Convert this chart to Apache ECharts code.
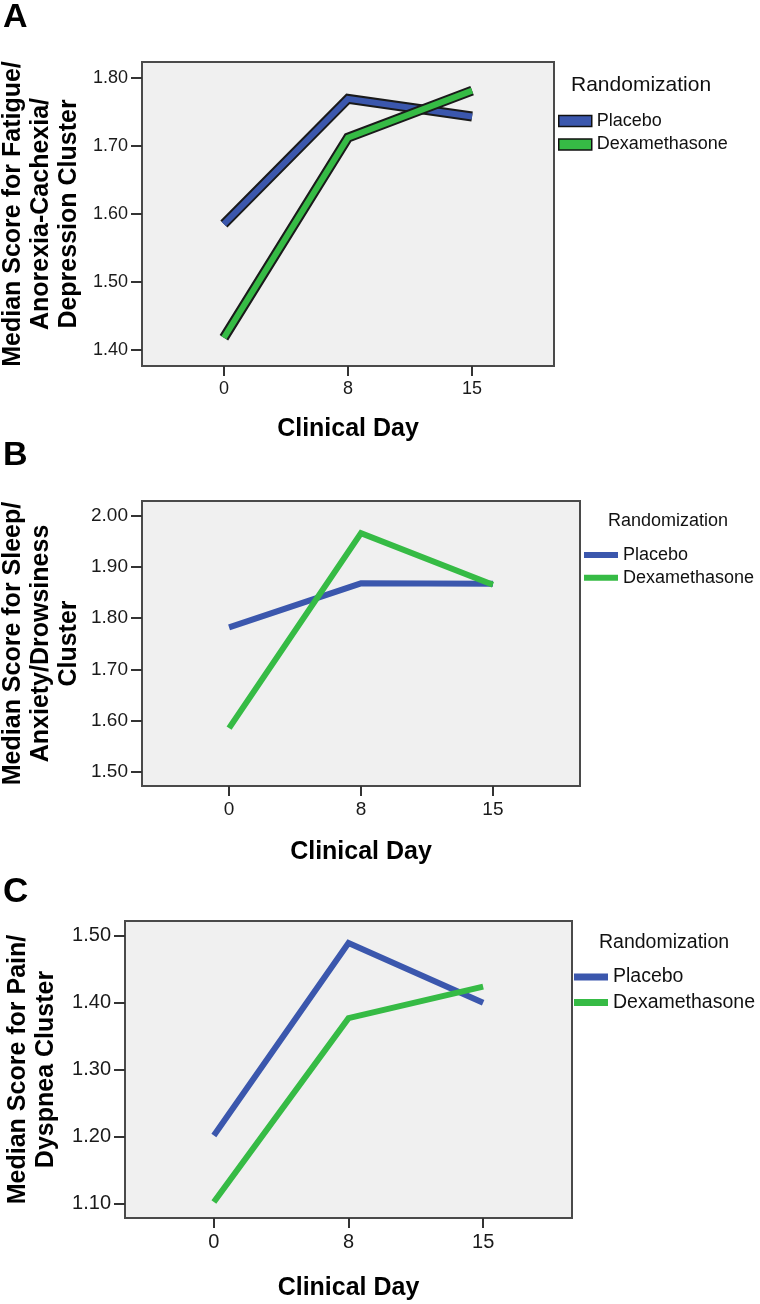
<!DOCTYPE html>
<html>
<head>
<meta charset="utf-8">
<script src="https://cdn.jsdelivr.net/npm/echarts@6/dist/echarts.min.js"></script>
<style>
  html, body { margin: 0; padding: 0; background: #fff; }
  #chart { width: 760px; height: 1304px; }
</style>
</head>
<body>
<div id="chart"></div>
<script>
// clinical days (categories) and the median cluster scores
const days = ['0', '8', '15']

const placeboA = [1.585, 1.769, 1.743]
const dexaA = [1.418, 1.712, 1.781]

const placeboB = [1.782, 1.868, 1.867]
const dexaB = [1.585, 1.966, 1.865]

const placeboC = [1.202, 1.489, 1.400]
const dexaC = [1.103, 1.377, 1.424]

// y tick labels
const ticksA = [1.4, 1.5, 1.6, 1.7, 1.8]
const ticksB = [1.5, 1.6, 1.7, 1.8, 1.9, 2.0]
const ticksC = [1.1, 1.2, 1.3, 1.4, 1.5]

const blue = '#3b57ad'
const green = '#36bb45'
const font = 'Liberation Sans, Arial, sans-serif'

const dayIdx = days.map((d, i) => i)
const toPoints = arr => arr.map((v, i) => [i, v])

function xAxis(gridIndex, fontSize, nameGap) {
  return {
    type: 'value',
    gridIndex: gridIndex,
    min: -0.66,
    max: 2.66,
    name: 'Clinical Day',
    nameLocation: 'middle',
    nameGap: nameGap,
    nameMoveOverlap: false,
    nameTextStyle: { fontSize: 25, fontWeight: 'bold', color: '#000', fontFamily: font },
    axisLine: { show: false, onZero: false },
    splitLine: { show: false },
    axisTick: { customValues: dayIdx, length: 10, lineStyle: { color: '#333', width: 2 } },
    axisLabel: {
      customValues: dayIdx,
      margin: 14,
      fontSize: fontSize,
      color: '#1a1a1a',
      formatter: v => days[Math.round(v)]
    }
  }
}

function yAxis(gridIndex, min, max, ticks, title, fontSize, nameGap) {
  return {
    type: 'value',
    gridIndex: gridIndex,
    min: min,
    max: max,
    name: title,
    nameLocation: 'middle',
    nameRotate: 90,
    nameGap: nameGap,
    nameMoveOverlap: false,
    nameTextStyle: { fontSize: 25, fontWeight: 'bold', color: '#000', lineHeight: 28, fontFamily: font },
    axisLine: { show: false, onZero: false },
    splitLine: { show: false },
    axisTick: { customValues: ticks, length: 11, lineStyle: { color: '#333', width: 2 } },
    axisLabel: {
      customValues: ticks,
      margin: 14,
      fontSize: fontSize,
      color: '#1a1a1a',
      formatter: v => v.toFixed(2)
    }
  }
}

function line(name, idx, data, color, width, z) {
  return {
    name: name,
    type: 'line',
    xAxisIndex: idx,
    yAxisIndex: idx,
    data: toPoints(data),
    showSymbol: false,
    z: z,
    lineStyle: { color: color, width: width, join: 'miter', cap: 'butt' },
    itemStyle: { color: color }
  }
}

function legend(idx, left, top, size, itemH, gap, bordered) {
  const border = bordered ? { borderColor: '#111', borderWidth: 1.5 } : { borderWidth: 0 }
  return {
    left: left,
    top: top,
    orient: 'vertical',
    padding: 0,
    itemGap: gap,
    itemWidth: bordered ? 33 : 34,
    itemHeight: itemH,
    icon: 'rect',
    selectedMode: false,
    textStyle: { fontSize: size, lineHeight: size, color: '#111', fontFamily: font },
    data: [
      { name: 'Placebo', itemStyle: Object.assign({ color: blue }, border) },
      { name: 'Dexamethasone', itemStyle: Object.assign({ color: green }, border) }
    ]
  }
}

function label(text, left, top, size, bold) {
  return {
    text: text,
    left: left,
    top: top,
    padding: 0,
    textStyle: {
      fontSize: size,
      lineHeight: size + 1,
      fontWeight: bold ? 'bold' : 'normal',
      color: bold ? '#000' : '#111',
      fontFamily: font
    }
  }
}

const gridStyle = {
  show: true,
  outerBoundsMode: 'none',
  containLabel: false,
  backgroundColor: '#f0f0f0',
  borderColor: '#4a4a4a',
  borderWidth: 2
}

const chart = echarts.init(document.getElementById('chart'))

chart.setOption({
  animation: false,
  textStyle: { fontFamily: font },
  title: [
    label('A', 3, 0, 34, true),
    label('B', 3, 438, 34, true),
    label('C', 3, 874, 35, true),
    label('Randomization', 571, 74, 21, false),
    label('Randomization', 608, 512, 18, false),
    label('Randomization', 599, 932, 19.5, false)
  ],
  legend: [
    legend(0, 558, 112, 18, 11, 5.4, true),
    legend(1, 584, 546, 18, 6, 4.7, false),
    legend(2, 574, 967, 19.5, 7, 5.5, false)
  ],
  grid: [
    Object.assign({ left: 142, top: 62, width: 412, height: 304 }, gridStyle),
    Object.assign({ left: 142, top: 501, width: 438, height: 285 }, gridStyle),
    Object.assign({ left: 125, top: 921, width: 447, height: 297 }, gridStyle)
  ],
  xAxis: [
    xAxis(0, 18, 51),
    xAxis(1, 19, 54),
    xAxis(2, 20, 58)
  ],
  yAxis: [
    yAxis(0, 1.3765, 1.8231, ticksA, 'Median Score for Fatigue/\nAnorexia-Cachexia/\nDepression Cluster', 18, 59),
    yAxis(1, 1.4721, 2.0287, ticksB, 'Median Score for Sleep/\nAnxiety/Drowsiness\nCluster', 19, 59),
    yAxis(2, 1.0791, 1.5219, ticksC, 'Median Score for Pain/\nDyspnea Cluster', 20, 65)
  ],
  series: [
    // panel A: thick lines with a dark outline
    line('Placebo outline', 0, placeboA, '#1a1a1a', 10, 2),
    line('Placebo', 0, placeboA, blue, 6, 3),
    line('Dexamethasone outline', 0, dexaA, '#1a1a1a', 10, 4),
    line('Dexamethasone', 0, dexaA, green, 6, 5),
    // panel B
    line('Placebo', 1, placeboB, blue, 6, 2),
    line('Dexamethasone', 1, dexaB, green, 6, 3),
    // panel C
    line('Placebo', 2, placeboC, blue, 6, 2),
    line('Dexamethasone', 2, dexaC, green, 6, 3)
  ]
})
</script>
</body>
</html>
